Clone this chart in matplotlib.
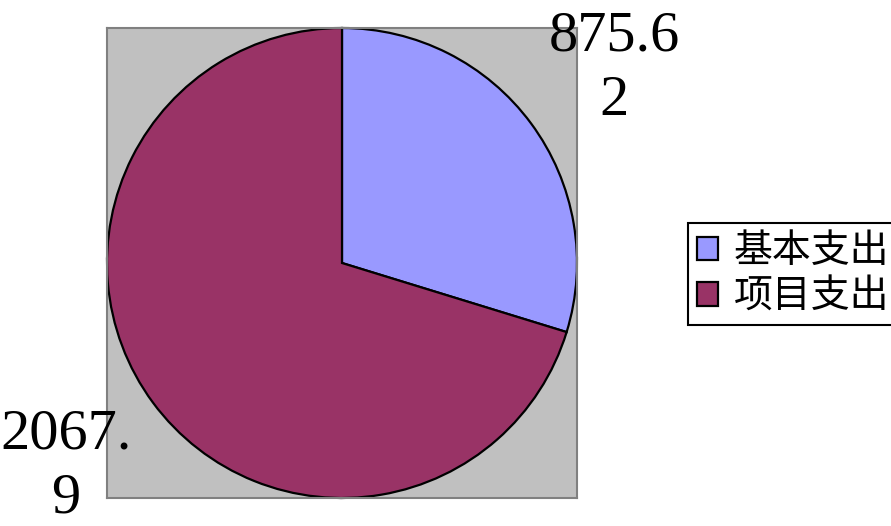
import matplotlib
matplotlib.use("Agg")
import matplotlib.pyplot as plt


# ==============================
# Data
# ==============================

categories = ["基本支出", "项目支出"]
values = [875.62, 2067.9]
# the source chart wraps the value labels onto two lines
value_labels = ["875.6\n2", "2067.\n9"]
colors = ["#9999FF", "#993366"]
label_dist = [1.44, 1.46]
label_dy = [-0.03, 0.0]


# ==============================
# Plot
# ==============================

plt.rcParams["font.family"] = ["Noto Sans CJK SC", "DejaVu Sans"]

fig = plt.figure(figsize=(8.91, 5.26), dpi=100)
ax = fig.add_axes([107 / 891, 28 / 526, 470 / 891, 470 / 526])
ax.set_facecolor("#C0C0C0")

wedges, texts = ax.pie(
    values,
    labels=value_labels,
    colors=colors,
    startangle=90,
    counterclock=False,
    radius=1.0,
    labeldistance=1.0,
    wedgeprops=dict(edgecolor="black", linewidth=1.6),
    textprops=dict(family=["Liberation Serif"], fontsize=42, ha="center",
                   va="center", linespacing=1.3),
)
# push each label out along its own direction
for t, d, dy in zip(texts, label_dist, label_dy):
    x, y = t.get_position()
    t.set_position((x * d, y * d + dy))

ax.set_xlim(-1, 1)
ax.set_ylim(-1, 1)
ax.set_frame_on(True)
for s in ax.spines.values():
    s.set_visible(True)
    s.set_color("#808080")
    s.set_linewidth(1.5)
ax.set_xticks([])
ax.set_yticks([])

leg = fig.legend(
    wedges, categories,
    loc="center left",
    bbox_to_anchor=(688 / 891, 1 - 274 / 526),
    borderaxespad=0,
    fontsize=28,
    frameon=True,
    fancybox=False,
    framealpha=1,
    handlelength=0.55,
    handleheight=0.55,
    handletextpad=0.4,
    labelspacing=0.15,
    borderpad=0.22,
)
leg.get_frame().set_edgecolor("black")
leg.get_frame().set_linewidth(1.5)

fig.savefig("out.png", dpi=100)
